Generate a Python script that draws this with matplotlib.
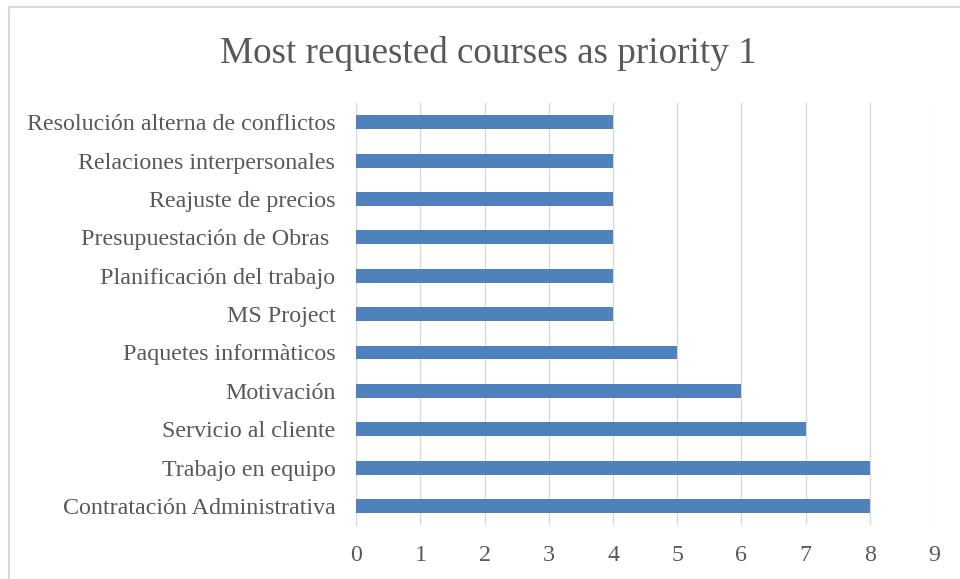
import matplotlib.pyplot as plt
from matplotlib.patches import Rectangle

# datos del gráfico (de abajo hacia arriba)
courses = [
    'Contratación Administrativa',
    'Trabajo en equipo',
    'Servicio al cliente',
    'Motivación',
    'Paquetes informàticos',
    'MS Project',
    'Planificación del trabajo',
    'Presupuestación de Obras ',
    'Reajuste de precios',
    'Relaciones interpersonales',
    'Resolución alterna de conflictos',
]
counts = [8, 8, 7, 6, 5, 4, 4, 4, 4, 4, 4]
x_ticks = list(range(0, 10))

plt.rcParams['font.family'] = ['Liberation Serif', 'DejaVu Serif']
text_color = '#595959'

fig = plt.figure(figsize=(9.6, 5.79), dpi=100)
ax = fig.add_axes([0.371, 0.093, 0.602, 0.729])

# marco del gráfico
fig.patches.append(Rectangle((9 / 960, -0.05), 1.05, 1 - 7 / 579 + 0.05,
                             transform=fig.transFigure, fill=False,
                             edgecolor='#d9d9d9', linewidth=1.5))

ax.barh(range(len(courses)), counts, height=0.36, color='#4f81bd', zorder=3)

ax.set_xlim(0, 9)
ax.set_ylim(-0.5, len(courses) - 0.5)
ax.set_xticks(x_ticks)
ax.set_yticks(range(len(courses)))
ax.set_yticklabels(courses)
ax.grid(axis='x', color='#d9d9d9', linewidth=1, zorder=0)
ax.tick_params(axis='both', length=0, labelsize=17.3, labelcolor=text_color)
ax.tick_params(axis='x', pad=14)
ax.tick_params(axis='y', pad=15)
for side in ['top', 'right', 'bottom']:
    ax.spines[side].set_visible(False)
ax.spines['left'].set_color('#d9d9d9')

fig.text(0.509, 0.907, 'Most requested courses as priority 1', ha='center',
         va='center', fontsize=26.7, color=text_color)

fig.savefig('out.png', dpi=100)
